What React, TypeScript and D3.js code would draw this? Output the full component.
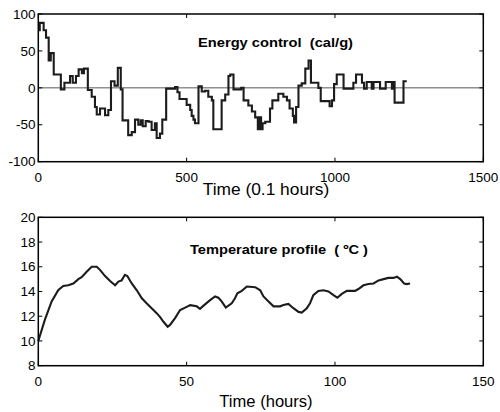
import * as d3 from 'd3'

// energy control: step starts (0.1 h) and values (cal/g)
const energyT = [0, 5, 18, 26, 35, 42, 52, 76, 88, 107, 116, 127, 136, 147, 154, 167, 180, 191, 197, 208, 225, 236, 245, 257, 268, 278, 284, 303, 315, 326, 337, 345, 352, 362, 372, 382, 393, 399, 410, 418, 431, 461, 469, 476, 500, 512, 517, 523, 528, 540, 551, 562, 573, 585, 590, 618, 630, 641, 647, 658, 684, 692, 708, 720, 731, 740, 744, 751, 756, 765, 781, 789, 809, 826, 838, 847, 858, 862, 869, 877, 888, 900, 911, 919, 944, 952, 982, 990, 997, 1006, 1029, 1062, 1071, 1091, 1098, 1107, 1124, 1130, 1152, 1171, 1192, 1197, 1201, 1231, 1242]
const energyV = [78, 88, 78, 68, 37, 47, 18, -2, 7, 16, 7, 16, 25, 20, 26, -3, -12, -26, -36, -28, -37, -30, 9, 3, 27, -2, -44, -64, -60, -43, -50, -44, -52, -45, -46, -57, -48, -68, -62, -43, -1, 1, -6, -15, -23, -30, -38, -43, -48, 2, -5, -4, -12, -17, -56, -17, -9, 16, 18, -2, 0, -17, -24, -32, -40, -56, -40, -56, -48, -46, -28, -17, -8, -12, -17, -28, -38, -47, -26, 3, 6, 26, 37, 7, 0, -18, -25, -17, 5, 18, -1, 7, 18, 7, -1, 8, -1, 8, -1, 8, -1, 8, -20, 9, 9]

// temperature profile (hours, degC)
const tempT = [0, 2.2, 4.5, 6.7, 8.4, 10.1, 11.8, 13.5, 14.6, 16.3, 18, 19.7, 20.8, 22.5, 24.2, 25.9, 27, 28.1, 29.2, 30, 31.5, 33.2, 34.9, 36.5, 38.2, 39.9, 41, 42.2, 43.6, 44.4, 46.1, 47.8, 49.5, 51.2, 53.4, 54.5, 55.9, 57.9, 59.6, 60.7, 61.8, 63.2, 65.2, 66.3, 67.1, 68.6, 70.3, 73.1, 74.8, 75.9, 77.6, 79.3, 81.5, 82.6, 84.3, 86, 87.7, 88.8, 90.5, 91.6, 92.7, 94.4, 96.1, 97.8, 99.5, 100.8, 102.3, 104, 106.8, 107.9, 109.6, 111.3, 113, 114.7, 116.4, 118, 119.7, 120.9, 122, 123.3, 124.2, 125.3]
const tempV = [10, 11.7, 13.2, 14.1, 14.45, 14.5, 14.65, 15, 15.15, 15.6, 16, 16, 15.75, 15.25, 14.85, 14.5, 14.8, 14.9, 15.35, 15.25, 14.65, 14.1, 13.45, 13.05, 12.65, 12.25, 11.95, 11.55, 11.15, 11.3, 11.85, 12.5, 12.7, 12.9, 12.8, 12.6, 12.9, 13.3, 13.6, 13.5, 13.2, 12.7, 13.05, 13.45, 13.85, 14.05, 14.4, 14.35, 14.1, 13.6, 13.2, 12.8, 12.8, 12.9, 13, 12.65, 12.35, 12.3, 12.65, 13.05, 13.7, 14.05, 14.1, 14, 13.7, 13.5, 13.8, 14.05, 14.05, 14.2, 14.5, 14.6, 14.65, 14.9, 15, 15.1, 15.1, 15.2, 15, 14.65, 14.6, 14.65]

const energyXTicks = [0, 500, 1000, 1500]
const energyYTicks = [-100, -50, 0, 50, 100]
const tempXTicks = [0, 50, 100, 150]
const tempYTicks = [8, 10, 12, 14, 16, 18, 20]

const FONT = 'Liberation Sans, Arial, sans-serif'
const LEFT = 38.3
const RIGHT = 483.3
const TICK = 4

type PanelProps = {
  top: number
  bottom: number
  xDomain: [number, number]
  yDomain: [number, number]
  xTicks: number[]
  yTicks: number[]
  xs: number[]
  ys: number[]
  step?: boolean
  zeroLine?: boolean
  title: string
  titleX: number
  titleY: number
  titleW: number
  xLabel: string
  xLabelY: number
  xLabelW: number
}

function Panel(p: PanelProps) {
  const x = d3.scaleLinear().domain(p.xDomain).range([LEFT, RIGHT])
  const y = d3.scaleLinear().domain(p.yDomain).range([p.bottom, p.top])
  const pts = p.xs.map((t, i) => [t, p.ys[i]] as [number, number])
  const line = d3
    .line<[number, number]>()
    .x((d) => x(d[0]))
    .y((d) => y(d[1]))
    .curve(p.step ? d3.curveStepAfter : d3.curveLinear)

  return (
    <g>
      {p.zeroLine && (
        <line x1={LEFT} x2={RIGHT} y1={y(0)} y2={y(0)} stroke="#444" strokeWidth={0.9} />
      )}
      <path d={line(pts) || ''} fill="none" stroke="#1c1c1c" strokeWidth={2.1} strokeLinejoin="miter" />
      <rect x={LEFT} y={p.top} width={RIGHT - LEFT} height={p.bottom - p.top} fill="none" stroke="#000" strokeWidth={1.5} />
      {p.xTicks.map((t) => (
        <g key={'x' + t}>
          <line x1={x(t)} x2={x(t)} y1={p.bottom} y2={p.bottom - TICK} stroke="#000" />
          <line x1={x(t)} x2={x(t)} y1={p.top} y2={p.top + TICK} stroke="#000" />
          <text x={x(t)} y={p.bottom + 20} textAnchor="middle" fontSize={13.5} fontFamily={FONT} fill="#000">
            {t}
          </text>
        </g>
      ))}
      {p.yTicks.map((t) => (
        <g key={'y' + t}>
          <line x1={LEFT} x2={LEFT + TICK} y1={y(t)} y2={y(t)} stroke="#000" />
          <line x1={RIGHT} x2={RIGHT - TICK} y1={y(t)} y2={y(t)} stroke="#000" />
          <text x={35.5} y={y(t) + 4.7} textAnchor="end" fontSize={13.5} fontFamily={FONT} fill="#000">
            {t}
          </text>
        </g>
      ))}
      <text
        x={p.titleX}
        y={p.titleY}
        textAnchor="middle"
        fontSize={12.5}
        fontWeight="bold"
        fontFamily={FONT}
        textLength={p.titleW}
        lengthAdjust="spacingAndGlyphs"
        fill="#000"
        style={{ whiteSpace: 'pre' }}
      >
        {p.title}
      </text>
      <text
        x={266}
        y={p.xLabelY}
        textAnchor="middle"
        fontSize={16}
        fontFamily={FONT}
        textLength={p.xLabelW}
        lengthAdjust="spacingAndGlyphs"
        fill="#000"
      >
        {p.xLabel}
      </text>
    </g>
  )
}

export default function App() {
  return (
    <svg width={500} height={412} style={{ position: 'absolute', left: 0, top: 0, background: '#fff' }}>
      <Panel
        top={14}
        bottom={161.7}
        xDomain={[0, 1500]}
        yDomain={[-100, 100]}
        xTicks={energyXTicks}
        yTicks={energyYTicks}
        xs={energyT}
        ys={energyV}
        step
        zeroLine
        title="Energy control  (cal/g)"
        titleX={275.5}
        titleY={47}
        titleW={155}
        xLabel="Time (0.1 hours)"
        xLabelY={194.5}
        xLabelW={126.5}
      />
      <Panel
        top={217.3}
        bottom={365.7}
        xDomain={[0, 150]}
        yDomain={[8, 20]}
        xTicks={tempXTicks}
        yTicks={tempYTicks}
        xs={tempT}
        ys={tempV}
        title="Temperature profile  ( ºC )"
        titleX={279}
        titleY={254}
        titleW={178}
        xLabel="Time (hours)"
        xLabelY={406.5}
        xLabelW={93.3}
      />
    </svg>
  )
}
